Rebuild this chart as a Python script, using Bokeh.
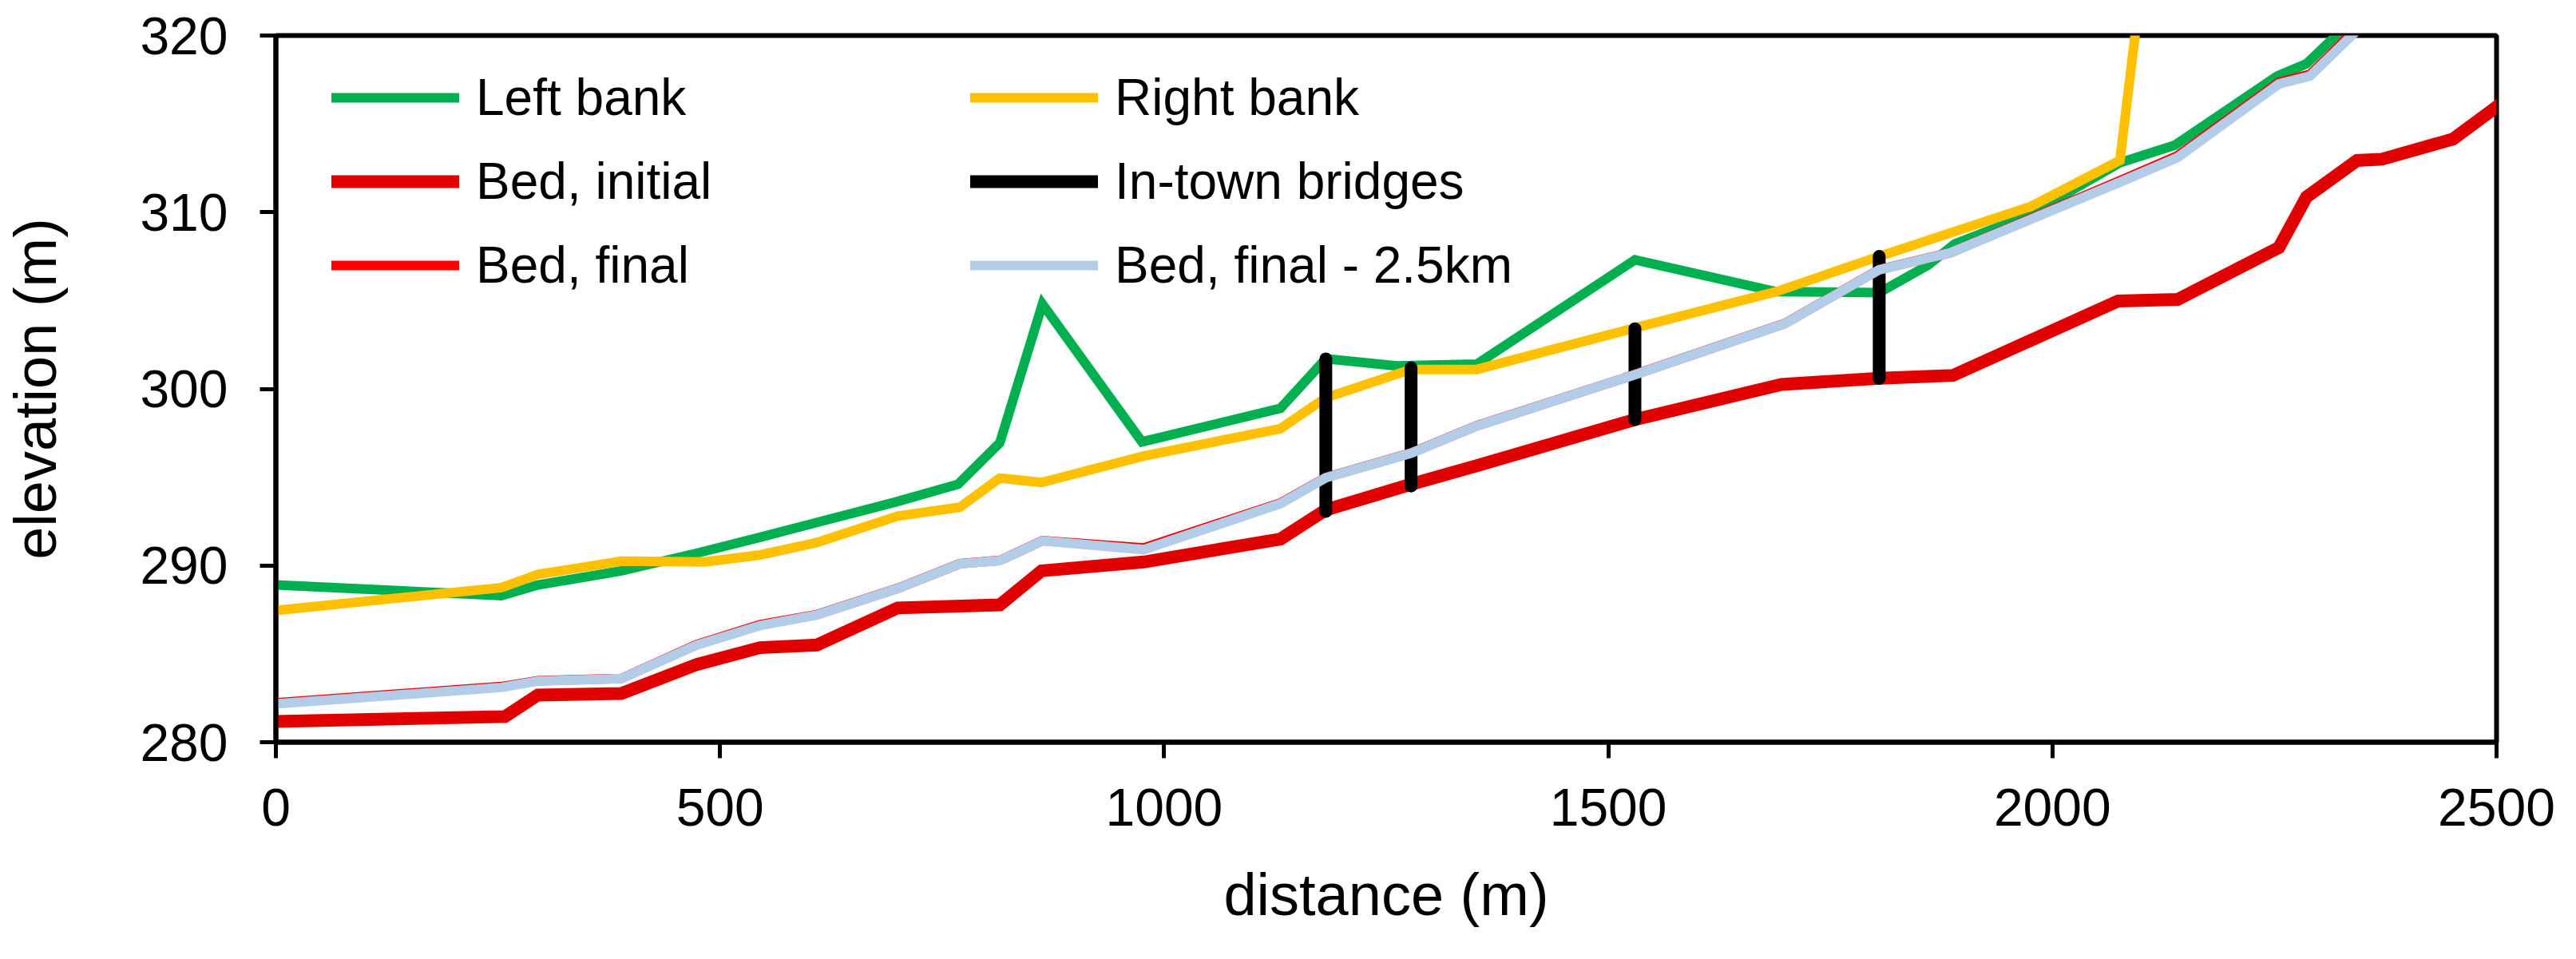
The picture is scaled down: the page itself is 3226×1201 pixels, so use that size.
from bokeh.plotting import figure
from bokeh.models import Range1d, Legend, LegendItem
from bokeh.embed import file_html
from bokeh.resources import INLINE

# ---------------- data ----------------
left_x = [0, 254, 295, 389, 474, 545, 698, 768, 815, 863, 975, 1131, 1182, 1262, 1352,
          1530, 1689, 1805, 1860, 1890, 1972, 2076, 2138, 2253, 2286, 2380]
left_y = [288.9, 288.3, 288.9, 289.7, 290.7, 291.6, 293.6, 294.6, 296.95, 304.8, 297.0, 298.9, 301.7, 301.3, 301.4,
          307.3, 305.5, 305.45, 307.0, 308.2, 309.8, 312.8, 313.8, 317.7, 318.4, 322.9]

right_x = [0, 254, 295, 389, 483, 545, 609, 700, 770, 815, 862, 977, 1131, 1182, 1278, 1352,
           1530, 1689, 1805, 1976, 2076, 2105, 2440, 2451, 2462, 2500]
right_y = [287.46, 288.75, 289.5, 290.25, 290.2, 290.6, 291.3, 292.8, 293.3, 294.95, 294.7, 296.2, 297.75, 299.5, 301.1, 301.1,
           303.45, 305.5, 307.5, 310.33, 312.93, 325.0, 326.0, 320.05, 326.0, 326.0]

bed_init_x = [0, 258, 295, 389, 474, 545, 609, 700, 815, 862, 977, 1131, 1182, 1278, 1352,
              1530, 1695, 1805, 1888, 2074, 2141, 2255, 2286, 2343, 2371, 2451, 2500, 2540]
bed_init_y = [281.17, 281.45, 282.67, 282.76, 284.4, 285.35, 285.5, 287.6, 287.77, 289.7, 290.2, 291.5, 293.15, 294.6, 295.65,
              298.26, 300.25, 300.6, 300.76, 304.97, 305.06, 308.0, 310.86, 312.93, 313.0, 314.14, 315.96, 317.5]

bed_final_x = [0, 254, 295, 389, 474, 545, 609, 700, 770, 815, 863, 977, 1131, 1182, 1278, 1352,
               1530, 1699, 1805, 1885, 2076, 2141, 2255, 2290, 2337, 2400]
bed_final_y = [282.23, 283.15, 283.48, 283.61, 285.53, 286.65, 287.22, 288.71, 290.11, 290.29, 291.41, 291.0, 293.54, 294.98, 296.37, 297.91,
               300.81, 303.71, 306.75, 307.71, 311.78, 313.2, 317.35, 317.8, 320.12, 323.18]

bed_25_x = [0, 254, 295, 389, 474, 545, 609, 700, 770, 815, 863, 977, 1131, 1182, 1278, 1352,
            1530, 1699, 1805, 1885, 2076, 2141, 2255, 2290, 2337, 2400]
bed_25_y = [282.17, 283.1, 283.46, 283.6, 285.5, 286.6, 287.2, 288.7, 290.1, 290.28, 291.4, 290.9, 293.5, 294.97, 296.36, 297.9,
            300.8, 303.7, 306.74, 307.7, 311.7, 313.1, 317.26, 317.7, 320.0, 323.1]

bridge_x = [1182, 1278, 1530, 1805]
bridge_bottom = [293.06, 294.5, 298.26, 300.6]
bridge_top = [301.7, 301.2, 303.4, 307.5]

x_ticks = [0, 500, 1000, 1500, 2000, 2500]
y_ticks = [280, 290, 300, 310, 320]

# ---------------- figure ----------------
FONT = "Liberation Sans"
p = figure(width=3210, height=1185, x_range=Range1d(0, 2500), y_range=Range1d(280, 320),
           output_backend="svg", toolbar_location=None,
           min_border_left=345, min_border_right=84, min_border_top=44, min_border_bottom=256)
p.background_fill_color = "white"
p.border_fill_color = "white"
p.grid.visible = False
p.outline_line_color = "black"
p.outline_line_width = 6

for ax in (p.xaxis[0], p.yaxis[0]):
    ax.axis_line_width = 6
    ax.axis_line_color = "black"
    ax.major_tick_line_width = 5
    ax.major_tick_line_color = "black"
    ax.major_tick_out = 20
    ax.major_tick_in = 0
    ax.minor_tick_line_color = None
    ax.major_label_text_font = FONT
    ax.major_label_text_font_size = "66px"
    ax.major_label_text_color = "black"
    ax.axis_label_text_font = FONT
    ax.axis_label_text_font_size = "74px"
    ax.axis_label_text_font_style = "normal"
    ax.axis_label_text_color = "black"

p.xaxis.ticker = x_ticks
p.yaxis.ticker = y_ticks
p.xaxis.axis_label = "distance (m)"
p.yaxis.axis_label = "elevation (m)"
p.xaxis.major_label_standoff = 38
p.xaxis.axis_label_standoff = 42
p.yaxis.major_label_standoff = 40
p.yaxis.axis_label_standoff = 86

GREEN = "#00B050"
YELLOW = "#FFC000"
RED_INIT = "#E00000"
RED_FINAL = "#FF0000"
LBLUE = "#B3CDE8"

r_left = p.line(left_x, left_y, line_color=GREEN, line_width=12, line_cap="round", line_join="miter")
r_right = p.line(right_x, right_y, line_color=YELLOW, line_width=12, line_cap="round", line_join="miter")
r_init = p.line(bed_init_x, bed_init_y, line_color=RED_INIT, line_width=16, line_cap="round", line_join="miter")
r_bridge = p.segment(x0=bridge_x, y0=bridge_bottom, x1=bridge_x, y1=bridge_top,
                     line_color="black", line_width=16, line_cap="round")
r_final = p.line(bed_final_x, bed_final_y, line_color=RED_FINAL, line_width=12, line_cap="round", line_join="miter")
r_25 = p.line(bed_25_x, bed_25_y, line_color=LBLUE, line_width=12, line_cap="round", line_join="miter")


def make_legend(items, loc):
    lg = Legend(items=items, location=loc, orientation="vertical")
    lg.label_text_font = FONT
    lg.label_text_font_size = "64px"
    lg.label_text_color = "black"
    lg.glyph_width = 160
    lg.glyph_height = 74
    lg.label_height = 74
    lg.spacing = 31
    lg.label_standoff = 21
    lg.padding = 0
    lg.margin = 0
    lg.border_line_color = None
    lg.background_fill_alpha = 0
    return lg


leg1 = make_legend([LegendItem(label="Left bank", renderers=[r_left]),
                    LegendItem(label="Bed, initial", renderers=[r_init]),
                    LegendItem(label="Bed, final", renderers=[r_final])], (70, 560))
leg2 = make_legend([LegendItem(label="Right bank", renderers=[r_right]),
                    LegendItem(label="In-town bridges", renderers=[r_bridge]),
                    LegendItem(label="Bed, final - 2.5km", renderers=[r_25])], (870, 560))
p.add_layout(leg1, "center")
p.add_layout(leg2, "center")

open("out.html", "w").write(file_html(p, INLINE))
